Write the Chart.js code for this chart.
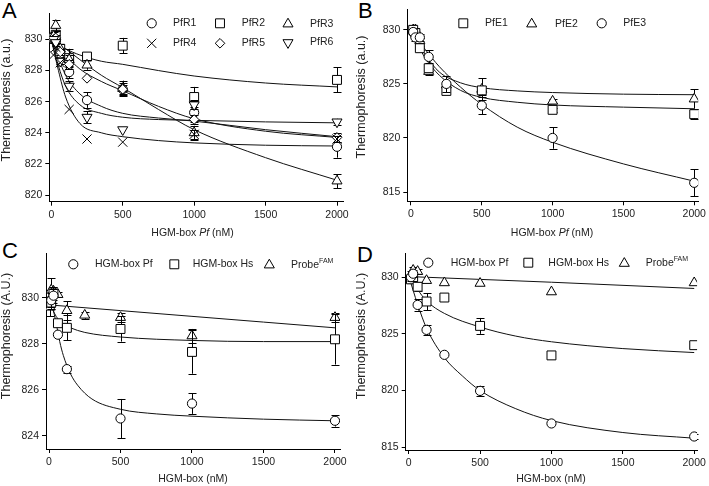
<!DOCTYPE html>
<html>
<head>
<meta charset="utf-8">
<script src="https://cdn.jsdelivr.net/npm/chart.js@4.4.0/dist/chart.umd.min.js"></script>
<style>
  body { margin: 0; background: #fff; width: 709px; height: 486px; overflow: hidden; position: relative;
         font-family: "Liberation Sans", Arial, sans-serif; }
  canvas { position: absolute; left: 0; top: 0; }
  .panel-letter { position: absolute; font-size: 22px; line-height: 22px; color: #000; }
</style>
</head>
<body>
<div class="panel-letter" style="left:2px;top:0px">A</div>
<div class="panel-letter" style="left:358px;top:0px">B</div>
<div class="panel-letter" style="left:2px;top:240px">C</div>
<div class="panel-letter" style="left:357px;top:244px">D</div>
<canvas id="chartA" width="709" height="486"></canvas>
<canvas id="chartB" width="709" height="486"></canvas>
<canvas id="chartC" width="709" height="486"></canvas>
<canvas id="chartD" width="709" height="486"></canvas>
<script>
// ---- Panel A : PfR1..PfR6 ----
const concA = [15.6, 31.25, 62.5, 125, 250, 500, 1000, 2000];
const pfR1 = [830.0, 829.9, 829.1, 827.9, 826.1, 826.8, 825.3, 823.1];
const pfR1Err = [0.2, 0.2, 0.2, 0.4, 0.5, 0.3, 0.6, 0.7];
const pfR2 = [830.1, 830.3, 829.4, 828.8, 828.9, 829.6, 826.3, 827.4];
const pfR2Err = [0.2, 0.3, 0.3, 0.6, 0.2, 0.5, 0.65, 0.8];
const pfR3 = [830.2, 830.9, 829.4, 828.7, 828.35, 826.85, 824.0, 820.9];
const pfR3Err = [0.3, 0.35, 0.3, 0.3, 0.3, 0.5, 0.45, 0.45];
const pfR4 = [829.0, 829.5, 828.5, 825.5, 823.6, 823.4, 823.9, 823.6];
const pfR4Err = [0, 0, 0, 0, 0, 0, 0.3, 0.2];
const pfR5 = [830.0, 830.1, 829.2, 828.4, 827.5, 826.8, 824.85, 823.7];
const pfR5Err = [0.2, 0.2, 0.2, 0.3, 0, 0.4, 0.3, 0.3];
const pfR6 = [830.0, 829.8, 828.6, 827.0, 825.0, 824.2, 825.8, 824.7];
const pfR6Err = [0.2, 0.2, 0.2, 0.3, 0.4, 0, 0.3, 0.2];
// fitted curves
const fitXA = [0, 50, 100, 200, 350, 500, 750, 1000, 1500, 2000];
const fitR1 = [830.0, 828.8, 827.7, 826.5, 825.7, 825.25, 824.95, 824.75, 824.2, 823.75];
const fitR2 = [830.0, 829.7, 829.4, 829.0, 828.6, 828.4, 828.0, 827.65, 827.2, 826.95];
const fitR3 = [830.0, 829.7, 829.4, 828.7, 827.7, 826.9, 825.5, 824.2, 822.4, 820.95];
const fitR4 = [830.0, 828.0, 826.3, 824.6, 824.0, 823.75, 823.5, 823.35, 823.2, 823.15];
const fitR5 = [830.0, 829.5, 829.0, 828.1, 827.3, 826.7, 825.7, 824.9, 824.1, 823.7];
const fitR6 = [830.0, 828.3, 827.0, 825.8, 825.25, 825.0, 824.85, 824.8, 824.7, 824.64];

// ---- Panel B : PfE1..PfE3 ----
const concB = [15.6, 31.25, 62.5, 125, 250, 500, 1000, 2000];
const pfE1 = [830.0, 829.7, 828.3, 826.45, 824.35, 824.4, 822.6, 822.2];
const pfE1Err = [0.2, 0.2, 0.2, 0.3, 0.3, 0.4, 0.2, 0.45];
const pfE2 = [830.0, 830.0, 829.0, 826.15, 824.9, 824.5, 823.4, 823.6];
const pfE2Err = [0.2, 0.2, 0.2, 0.3, 0.3, 1.0, 0.2, 0.9];
const pfE3 = [829.8, 829.3, 829.3, 827.5, 825.0, 823.0, 820.0, 815.85];
const pfE3Err = [0.3, 0.3, 0.3, 0.6, 0.75, 0.8, 1.0, 1.25];
const fitXB = [0, 50, 100, 200, 350, 500, 750, 1000, 1500, 2000];
const fitE1 = [830.0, 828.6, 827.4, 825.8, 824.4, 823.75, 823.3, 823.05, 822.85, 822.7];
const fitE2 = [830.0, 828.8, 827.7, 826.1, 825.1, 824.65, 824.35, 824.2, 824.05, 824.0];
const fitE3 = [830.0, 829.1, 828.2, 826.6, 824.7, 823.1, 821.0, 819.6, 817.6, 816.0];

// ---- Panel C : HGM-box Pf / Hs / Probe ----
const concPfC = [15.6, 31.25, 62.5, 125, 500, 1000, 2000];
const pfC = [829.9, 830.1, 828.4, 826.9, 824.75, 825.4, 824.65];
const pfCErr = [0.3, 0.3, 0, 0.15, 0.85, 0.45, 0.25];
const concHsC = [15.6, 31.25, 62.5, 125, 500, 1000, 2000];
const hsC = [829.8, 830.2, 828.9, 828.7, 828.65, 827.65, 828.2];
const hsCErr = [0.3, 0.3, 0, 0.55, 0.55, 0.95, 1.1];
const concProbeC = [7.8, 15.6, 31.25, 62.5, 125, 250, 500, 1000, 2000];
const probeC = [829.6, 830.35, 830.3, 830.15, 829.45, 829.25, 829.15, 828.35, 829.15];
const probeCErr = [0.4, 0.5, 0.2, 0.1, 0.4, 0.15, 0.2, 0.3, 0.2];
const fitXPfC = [0, 25, 50, 75, 100, 150, 200, 300, 500, 750, 1000, 1500, 2000];
const fitPfC = [830.1, 829.6, 828.9, 828.1, 827.5, 826.7, 826.2, 825.6, 825.15, 824.95, 824.85, 824.72, 824.65];
const fitXHsC = [0, 25, 50, 100, 150, 250, 500, 1000, 1500, 2000];
const fitHsC = [829.8, 829.5, 829.2, 828.85, 828.7, 828.5, 828.3, 828.15, 828.1, 828.1];
const fitXProbeC = [0, 500, 1000, 1500, 2000];
const fitProbeC = [829.7, 829.45, 829.2, 828.95, 828.7];

// ---- Panel D ----
const concD = [15.6, 31.25, 62.5, 125, 250, 500, 1000, 2000];
const pfD = [830.0, 830.3, 827.55, 825.35, 823.15, 819.97, 817.1, 815.95];
const pfDErr = [0.3, 0.3, 0.5, 0.45, 0, 0.45, 0, 0.2];
const hsD = [829.8, 830.0, 829.15, 827.85, 828.2, 825.7, 823.1, 824.0];
const hsDErr = [0.3, 0.3, 0.4, 0.75, 0, 0.7, 0, 0];
const probeD = [830.2, 830.6, 830.5, 829.7, 829.5, 829.45, 828.7, 829.5];
const probeDErr = [0.3, 0.3, 0.2, 0, 0, 0, 0, 0];
const fitXPfD = [0, 62.5, 125, 250, 375, 500, 750, 1000, 1500, 2000];
const fitPfD = [830.1, 827.6, 825.5, 822.9, 821.3, 820.0, 818.4, 817.35, 816.3, 815.8];
const fitXHsD = [0, 62.5, 125, 250, 500, 750, 1000, 1500, 2000];
const fitHsD = [830.1, 828.9, 827.9, 826.8, 825.6, 824.8, 824.3, 823.7, 823.35];
const fitXProbeD = [0, 1000, 2000];
const fitProbeD = [830.05, 829.55, 829.0];

// tick labels
const ticksX = [0, 500, 1000, 1500, 2000];
const ticksYA = [820, 822, 824, 826, 828, 830];
const ticksYB = [815, 820, 825, 830];
const ticksYC = [824, 826, 828, 830];
const ticksYD = [815, 820, 825, 830];

Chart.defaults.font.family = '"Liberation Sans", Arial, sans-serif';
Chart.defaults.color = '#222';

function pts(xs, ys) { return xs.map((x, i) => ({ x: x, y: ys[i] })); }

function markers(label, xs, ys, err, style, rot) {
  return {
    label: label, data: pts(xs, ys), err: err, order: 1,
    pointStyle: style, pointRotation: rot || 0,
    pointRadius: style === 'rect' ? 6.3 : style === 'triangle' ? 5.8 : style === 'crossRot' ? 6.5 : style === 'rectRot' ? 4.8 : 4.6,
    pointBackgroundColor: '#fff', pointBorderColor: '#000', pointBorderWidth: 1, showLine: false
  };
}
function fitLine(xs, ys) {
  return { data: pts(xs, ys), showLine: true, pointRadius: 0, borderColor: '#111', borderWidth: 1,
           cubicInterpolationMode: 'monotone', fill: false, order: 2 };
}

// error bars drawn just before each marker set
const errorBars = {
  id: 'errorBars',
  beforeDatasetDraw(chart, args) {
    const ds = chart.data.datasets[args.index];
    if (!ds.err) return;
    const ctx = chart.ctx, ys = chart.scales.y;
    const meta = chart.getDatasetMeta(args.index);
    ctx.save();
    ctx.strokeStyle = '#000';
    ctx.lineWidth = 1;
    meta.data.forEach((el, i) => {
      const e = ds.err[i];
      if (!e) return;
      const v = ds.data[i].y;
      const top = ys.getPixelForValue(v + e), bot = ys.getPixelForValue(v - e);
      const x = Math.round(el.x) + 0.5;
      ctx.beginPath();
      ctx.moveTo(x, top); ctx.lineTo(x, bot);
      ctx.moveTo(x - 4, Math.round(top) + 0.5); ctx.lineTo(x + 4, Math.round(top) + 0.5);
      ctx.moveTo(x - 4, Math.round(bot) + 0.5); ctx.lineTo(x + 4, Math.round(bot) + 0.5);
      ctx.stroke();
    });
    ctx.restore();
  }
};

function drawRich(ctx, segs, cx, cy, size) {
  let w = 0;
  segs.forEach(s => {
    ctx.font = (s.italic ? 'italic ' : '') + (s.sup ? size * 0.65 : size) + 'px "Liberation Sans", Arial';
    s.w = ctx.measureText(s.t).width; w += s.w;
  });
  let x = cx - w / 2;
  segs.forEach(s => {
    ctx.font = (s.italic ? 'italic ' : '') + (s.sup ? size * 0.65 : size) + 'px "Liberation Sans", Arial';
    ctx.fillText(s.t, x, s.sup ? cy - size * 0.4 : cy);
    x += s.w;
  });
}

// axis titles + in-plot legend
const decorations = {
  id: 'decorations',
  afterDraw(chart, args, o) {
    const ctx = chart.ctx;
    ctx.save();
    ctx.fillStyle = '#222';
    ctx.textBaseline = 'middle';
    ctx.textAlign = 'left';
    drawRich(ctx, o.xTitle, o.xTitlePos[0], o.xTitlePos[1], 10.5);
    ctx.save();
    ctx.translate(o.yTitlePos[0], o.yTitlePos[1]);
    ctx.rotate(-Math.PI / 2);
    drawRich(ctx, [{ t: o.yTitle }], 0, 0, 12.5);
    ctx.restore();
    o.legend.forEach(item => {
      ctx.fillStyle = '#fff';
      ctx.strokeStyle = '#000';
      ctx.lineWidth = 1;
      Chart.helpers.drawPoint(ctx, { pointStyle: item.style, rotation: item.rot || 0, radius: item.r, borderWidth: 1 }, item.x, item.y);
      ctx.fillStyle = '#222';
      ctx.textAlign = 'left';
      let x = item.tx;
      item.text.forEach(s => {
        ctx.font = (s.sup ? '7px' : '10.5px') + ' "Liberation Sans", Arial';
        ctx.fillText(s.t, x, s.sup ? item.y - 4 : item.y);
        x += ctx.measureText(s.t).width;
      });
    });
    ctx.restore();
  }
};

function makePanel(id, p) {
  const yW = 40, xH = 30;
  new Chart(document.getElementById(id), {
    type: 'scatter',
    data: { datasets: p.datasets },
    options: {
      responsive: false, animation: false, events: [],
      layout: { padding: { left: p.box.l - yW, right: 709 - p.box.r, top: p.box.t, bottom: 486 - p.box.b - xH } },
      plugins: { legend: { display: false }, tooltip: { enabled: false }, decorations: p.deco },
      scales: {
        x: {
          type: 'linear', min: p.x[0], max: p.x[1],
          afterFit: s => { s.height = xH; },
          afterBuildTicks: s => { s.ticks = ticksX.map(v => ({ value: v })); },
          border: { display: true, color: '#000', width: 1 },
          grid: { display: true, drawOnChartArea: false, drawTicks: true, tickLength: 4, color: '#000' },
          ticks: { font: { size: 10.5 }, color: '#222', padding: 3, maxRotation: 0, callback: v => String(v) }
        },
        y: {
          type: 'linear', min: p.y[0], max: p.y[1],
          afterFit: s => { s.width = yW; },
          afterBuildTicks: s => { s.ticks = p.yTicks.map(v => ({ value: v })); },
          border: { display: true, color: '#000', width: 1 },
          grid: { display: true, drawOnChartArea: false, drawTicks: true, tickLength: 4, color: '#000' },
          ticks: { font: { size: 10.5 }, color: '#222', padding: 3, callback: v => String(v) }
        }
      }
    },
    plugins: [errorBars, decorations]
  });
}

const xTitlePf = [{ t: 'HGM-box ' }, { t: 'Pf', italic: true }, { t: ' (nM)' }];
const xTitlePlain = [{ t: 'HGM-box (nM)' }];

makePanel('chartA', {
  box: { l: 49.3, r: 343, t: 13, b: 201.7 }, x: [-14, 2042], y: [819.57, 831.7], yTicks: ticksYA,
  datasets: [
    fitLine(fitXA, fitR1), fitLine(fitXA, fitR2), fitLine(fitXA, fitR3),
    fitLine(fitXA, fitR4), fitLine(fitXA, fitR5), fitLine(fitXA, fitR6),
    markers('PfR4', concA, pfR4, pfR4Err, 'crossRot'),
    markers('PfR6', concA, pfR6, pfR6Err, 'triangle', 180),
    markers('PfR5', concA, pfR5, pfR5Err, 'rectRot'),
    markers('PfR3', concA, pfR3, pfR3Err, 'triangle'),
    markers('PfR1', concA, pfR1, pfR1Err, 'circle'),
    markers('PfR2', concA, pfR2, pfR2Err, 'rect')
  ],
  deco: {
    xTitle: xTitlePf, xTitlePos: [192.5, 233], yTitle: 'Thermophoresis (a.u.)', yTitlePos: [7, 100],
    legend: [
      { style: 'circle', r: 4.6, x: 151.7, y: 23.3, tx: 173, text: [{ t: 'PfR1' }] },
      { style: 'rect', r: 6.3, x: 220, y: 23.3, tx: 241.7, text: [{ t: 'PfR2' }] },
      { style: 'triangle', r: 5.8, x: 288, y: 24, tx: 310, text: [{ t: 'PfR3' }] },
      { style: 'crossRot', r: 6.5, x: 151.7, y: 43.3, tx: 173, text: [{ t: 'PfR4' }] },
      { style: 'rectRot', r: 4.8, x: 220, y: 43.3, tx: 241.7, text: [{ t: 'PfR5' }] },
      { style: 'triangle', rot: 180, r: 5.8, x: 288, y: 42.6, tx: 310, text: [{ t: 'PfR6' }] }
    ]
  }
});

makePanel('chartB', {
  box: { l: 407.3, r: 702, t: 9.3, b: 201.3 }, x: [-26, 2028], y: [814.14, 831.9], yTicks: ticksYB,
  datasets: [
    fitLine(fitXB, fitE1), fitLine(fitXB, fitE2), fitLine(fitXB, fitE3),
    markers('PfE3', concB, pfE3, pfE3Err, 'circle'),
    markers('PfE1', concB, pfE1, pfE1Err, 'rect'),
    markers('PfE2', concB, pfE2, pfE2Err, 'triangle')
  ],
  deco: {
    xTitle: xTitlePf, xTitlePos: [552, 233], yTitle: 'Thermophoresis (a.u.)', yTitlePos: [362, 97],
    legend: [
      { style: 'rect', r: 6.3, x: 463.3, y: 23.3, tx: 485, text: [{ t: 'PfE1' }] },
      { style: 'triangle', r: 5.8, x: 531.7, y: 24, tx: 555, text: [{ t: 'PfE2' }] },
      { style: 'circle', r: 4.6, x: 601.7, y: 23.3, tx: 623.3, text: [{ t: 'PfE3' }] }
    ]
  }
});

makePanel('chartC', {
  box: { l: 46, r: 340, t: 253, b: 449 }, x: [-21, 2035], y: [823.42, 831.96], yTicks: ticksYC,
  datasets: [
    fitLine(fitXPfC, fitPfC), fitLine(fitXHsC, fitHsC), fitLine(fitXProbeC, fitProbeC),
    markers('HGM-box Pf', concPfC, pfC, pfCErr, 'circle'),
    markers('HGM-box Hs', concHsC, hsC, hsCErr, 'rect'),
    markers('Probe FAM', concProbeC, probeC, probeCErr, 'triangle')
  ],
  deco: {
    xTitle: xTitlePlain, xTitlePos: [193, 479], yTitle: 'Thermophoresis (A.U.)', yTitlePos: [7, 336],
    legend: [
      { style: 'circle', r: 4.6, x: 73.3, y: 264.3, tx: 95, text: [{ t: 'HGM-box Pf' }] },
      { style: 'rect', r: 6.3, x: 174.3, y: 264.3, tx: 192.7, text: [{ t: 'HGM-box Hs' }] },
      { style: 'triangle', r: 5.8, x: 269.3, y: 265, tx: 291, text: [{ t: 'Probe' }, { t: 'FAM', sup: true }] }
    ]
  }
});

makePanel('chartD', {
  box: { l: 405.7, r: 698, t: 253.3, b: 450 }, x: [-21, 2020], y: [814.76, 832.1], yTicks: ticksYD,
  datasets: [
    fitLine(fitXPfD, fitPfD), fitLine(fitXHsD, fitHsD), fitLine(fitXProbeD, fitProbeD),
    markers('HGM-box Pf', concD, pfD, pfDErr, 'circle'),
    markers('HGM-box Hs', concD, hsD, hsDErr, 'rect'),
    markers('Probe FAM', concD, probeD, probeDErr, 'triangle')
  ],
  deco: {
    xTitle: xTitlePlain, xTitlePos: [551, 479], yTitle: 'Thermophoresis (A.U.)', yTitlePos: [362, 336],
    legend: [
      { style: 'circle', r: 4.6, x: 428.3, y: 262.7, tx: 450.7, text: [{ t: 'HGM-box Pf' }] },
      { style: 'rect', r: 6.3, x: 528.3, y: 262.7, tx: 548.3, text: [{ t: 'HGM-box Hs' }] },
      { style: 'triangle', r: 5.8, x: 624.3, y: 263.4, tx: 645.7, text: [{ t: 'Probe' }, { t: 'FAM', sup: true }] }
    ]
  }
});
</script>
</body>
</html>
